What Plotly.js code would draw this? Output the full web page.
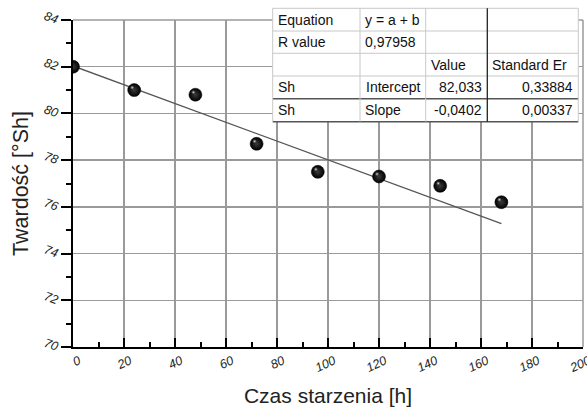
<!DOCTYPE html>
<html>
<head>
<meta charset="utf-8">
<script src="https://cdn.plot.ly/plotly-3.0.1.min.js"></script>
<style>html,body{margin:0;padding:0;background:#fff;}#chart{width:587px;height:407px;}</style>
</head>
<body>
<div id="chart"></div>
<script>
// ---- data ----
var timeHours = [0, 24, 48, 72, 96, 120, 144, 168];
var hardnessSh = [82.0, 81.0, 80.8, 78.7, 77.5, 77.3, 76.9, 76.2];
var fitIntercept = 82.033;
var fitSlope = -0.0402;
var fitRange = [0, 168];
var xTitle = "Czas starzenia [h]";
var yTitle = "Twardość [°Sh]";
var tableRows = [
  ["Equation", "y = a + b", "", ""],
  ["R value", "0,97958", "", ""],
  ["", "", "Value", "Standard Er"],
  ["Sh", "Intercept", "82,033", "0,33884"],
  ["Sh", "Slope", "-0,0402", "0,00337"]
];
var tableAlign = [
  ["left", "left", "left", "left"],
  ["left", "left", "left", "left"],
  ["left", "left", "left", "left"],
  ["left", "right", "right", "right"],
  ["left", "left", "right", "right"]
];

// ---- layout geometry (pixels) ----
var W = 587, H = 407;
var mL = 73, mR = 4, mT = 20, mB = 60;
var pw = W - mL - mR, ph = H - mT - mB;
var xRange = [0, 200], yRange = [70, 84];
function px(x) { return (x - mL) / pw; }
function py(y) { return (H - mB - y) / ph; }
var colEdges = [272.7, 360, 425.7, 487.3, 578.3];
var rowEdges = [8.3, 31, 53.3, 76, 98.7, 121.7];

var fitX = fitRange.slice();
var fitY = fitX.map(function (x) { return fitIntercept + fitSlope * x; });

// highlight offset on the spheres (in pixels converted to data units)
var hlDx = -2 * (xRange[1] - xRange[0]) / pw;
var hlDy = 2.5 * (yRange[1] - yRange[0]) / ph;
var hlX = timeHours.map(function (v) { return v + hlDx; });
var hlY = hardnessSh.map(function (v) { return v + hlDy; });

var traces = [
  {
    x: fitX, y: fitY, mode: "lines", type: "scatter",
    line: { color: "#555", width: 1.3 }, hoverinfo: "skip", showlegend: false
  },
  {
    x: timeHours, y: hardnessSh, mode: "markers", type: "scatter",
    marker: {
      size: 13, color: "#000",
      gradient: { type: "radial", color: "#3a3a3a" },
      line: { color: "#000", width: 0.5 }
    },
    showlegend: false
  },
  {
    x: hlX, y: hlY, mode: "markers", type: "scatter",
    marker: {
      size: 5, color: "rgba(60,60,60,0)",
      gradient: { type: "radial", color: "rgba(235,235,235,1)" },
      line: { width: 0 }
    },
    showlegend: false, hoverinfo: "skip"
  }
];

var shapes = [];
var annotations = [];
// top and right grid lines (plotly omits grid lines on the plot edges)
shapes.push({ type: "line", xref: "paper", yref: "paper", x0: 0, x1: 1, y0: 1, y1: 1,
  line: { color: "#9a9a9a", width: 1.5 }, layer: "below" });
shapes.push({ type: "line", xref: "paper", yref: "paper", x0: 1, x1: 1, y0: 0, y1: 1,
  line: { color: "#9a9a9a", width: 1.5 }, layer: "below" });
// table background
shapes.push({
  type: "rect", xref: "paper", yref: "paper",
  x0: px(colEdges[0]), x1: px(colEdges[4]), y0: py(rowEdges[5]), y1: py(rowEdges[0]),
  fillcolor: "#fff", line: { width: 0 }, layer: "above"
});
// horizontal lines
for (var r = 0; r < rowEdges.length; r++) {
  var dark = (r === 4 || r === 5);
  shapes.push({
    type: "line", xref: "paper", yref: "paper",
    x0: px(colEdges[0]), x1: px(colEdges[4]), y0: py(rowEdges[r]), y1: py(rowEdges[r]),
    line: { color: dark ? "#555" : "#c8c8c8", width: dark ? 1.5 : 1 }, layer: "above"
  });
}
// vertical lines
for (var c = 0; c < colEdges.length; c++) {
  var darkc = (c === 3);
  shapes.push({
    type: "line", xref: "paper", yref: "paper",
    x0: px(colEdges[c]), x1: px(colEdges[c]), y0: py(rowEdges[0]), y1: py(rowEdges[5]),
    line: { color: darkc ? "#222" : "#c8c8c8", width: darkc ? 1.3 : 1 }, layer: "above"
  });
}
// cell texts
for (var i = 0; i < tableRows.length; i++) {
  for (var j = 0; j < 4; j++) {
    var t = tableRows[i][j];
    if (!t) continue;
    var al = tableAlign[i][j];
    annotations.push({
      xref: "paper", yref: "paper",
      x: al === "right" ? px(colEdges[j + 1] - 3) : px(colEdges[j] + 3),
      y: py((rowEdges[i] + rowEdges[i + 1]) / 2),
      xanchor: al, yanchor: "middle", showarrow: false, text: t,
      font: { family: "Liberation Sans, Arial, sans-serif", size: 14, color: "#111" }
    });
  }
}

var tickFont = { family: "Liberation Sans, Arial, sans-serif", size: 12.5, color: "#222", style: "italic" };
var layout = {
  width: W, height: H,
  margin: { l: mL, r: mR, t: mT, b: mB, pad: 0 },
  paper_bgcolor: "#fff", plot_bgcolor: "#fff",
  showlegend: false,
  xaxis: {
    range: xRange, dtick: 20, tick0: 0,
    ticks: "inside", ticklen: 9, tickwidth: 2, tickcolor: "#000",
    minor: { dtick: 10, ticks: "inside", ticklen: 5, tickwidth: 2, tickcolor: "#000", showgrid: false },
    showline: true, linecolor: "#000", linewidth: 2,
    showgrid: true, gridcolor: "#9a9a9a", gridwidth: 1.5,
    zeroline: false, tickangle: -25, tickfont: tickFont, ticklabelshift: 6,
    ticklabeloverflow: "allow",
    title: { text: xTitle, font: { family: "Liberation Sans, Arial, sans-serif", size: 21, color: "#222" }, standoff: 20 },
    automargin: false, fixedrange: true
  },
  yaxis: {
    range: yRange, dtick: 2, tick0: 70,
    ticks: "outside", ticklen: 10, tickwidth: 2, tickcolor: "#000",
    minor: { dtick: 1, ticks: "outside", ticklen: 5, tickwidth: 2, tickcolor: "#000", showgrid: false },
    showline: true, linecolor: "#000", linewidth: 2,
    showgrid: true, gridcolor: "#9a9a9a", gridwidth: 1.5,
    zeroline: false, tickangle: 20, tickfont: tickFont,
    ticklabeloverflow: "allow",
    title: { text: yTitle, font: { family: "Liberation Sans, Arial, sans-serif", size: 21.5, color: "#222" }, standoff: 8 },
    automargin: false, fixedrange: true
  },
  shapes: shapes,
  annotations: annotations
};

Plotly.newPlot("chart", traces, layout, { staticPlot: true, displayModeBar: false });
</script>
</body>
</html>
